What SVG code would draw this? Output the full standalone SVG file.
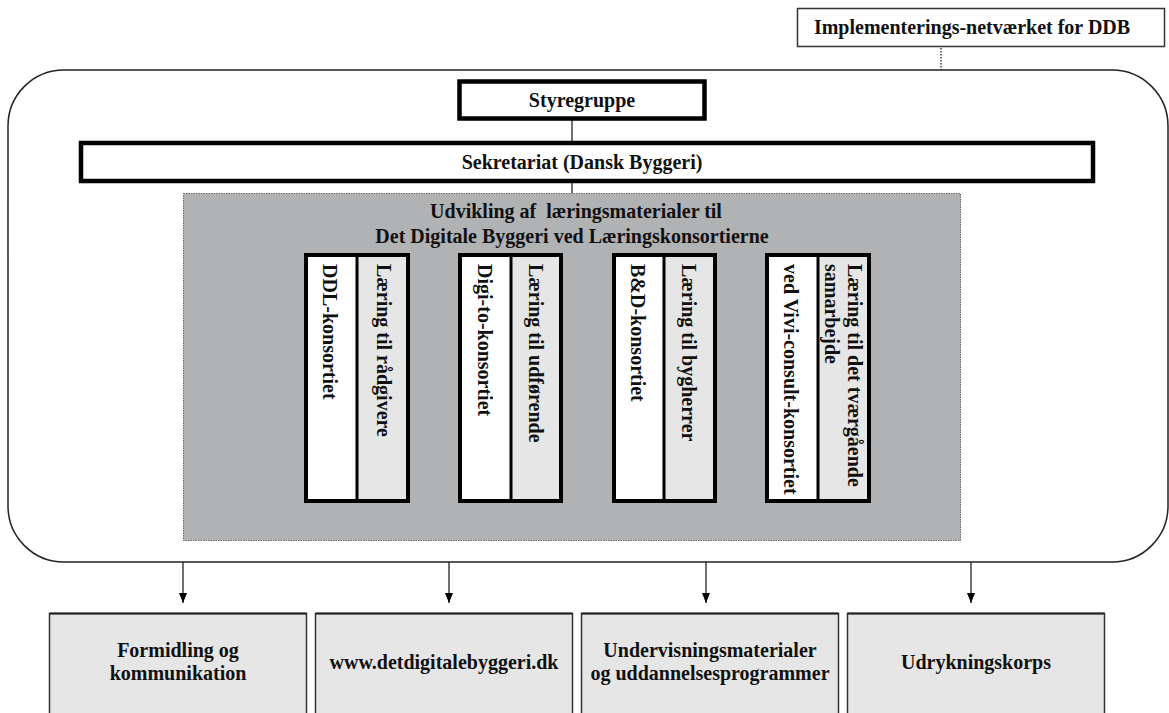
<svg xmlns="http://www.w3.org/2000/svg" width="1169" height="713" viewBox="0 0 1169 713">
<style>
text{font-family:"Liberation Serif","Times New Roman",serif;font-weight:bold;font-size:20px;fill:#111;}
.c{text-anchor:middle;}
.thick{fill:#fff;stroke:#000;stroke-width:4.5;}
.col{stroke:#000;stroke-width:4;}
.div{stroke:#000;stroke-width:3;}
.bot{fill:#e6e6e6;stroke:#333;stroke-width:1.5;}
.conn{stroke:#222;stroke-width:1.3;fill:none;}
</style>
<defs>
<marker id="ah" markerWidth="10" markerHeight="8" refX="10" refY="4" orient="auto" markerUnits="userSpaceOnUse" viewBox="0 0 10 8">
<path d="M0,0 L10,4 L0,8 Z" fill="#000"/>
</marker>
</defs>
<rect width="1169" height="713" fill="#fff"/>

<g id="outer">
<rect x="8" y="70" width="1160" height="492" rx="56" ry="56" fill="#fff" stroke="#222" stroke-width="1.5"/>
</g>

<g id="connectors">
<line class="conn" x1="941" y1="48" x2="941" y2="70" stroke-dasharray="1.5,1.5" stroke="#555"/>
<line class="conn" x1="572" y1="120" x2="572" y2="141"/>
<line class="conn" x1="572" y1="183" x2="572" y2="193"/>
<line class="conn" x1="183" y1="562" x2="183" y2="603" marker-end="url(#ah)"/>
<line class="conn" x1="449" y1="562" x2="449" y2="603" marker-end="url(#ah)"/>
<line class="conn" x1="706" y1="562" x2="706" y2="603" marker-end="url(#ah)"/>
<line class="conn" x1="971" y1="562" x2="971" y2="603" marker-end="url(#ah)"/>
</g>

<g id="implementering">
<rect x="797.5" y="8.5" width="367" height="38" fill="#fff" stroke="#333" stroke-width="1.5"/>
<text class="c" x="972" y="34">Implementerings-netværket for DDB</text>
</g>

<g id="styregruppe">
<rect class="thick" x="459.5" y="81.5" width="245" height="37"/>
<text class="c" x="582" y="107">Styregruppe</text>
</g>

<g id="sekretariat">
<rect class="thick" x="81" y="143" width="1012" height="38"/>
<text class="c" x="582" y="169">Sekretariat (Dansk Byggeri)</text>
</g>

<g id="udvikling">
<rect x="183.5" y="193.5" width="777" height="347" fill="#b1b2b4" stroke="#666" stroke-width="1" stroke-dasharray="1.5,1"/>
<text class="c" x="576" y="218" xml:space="preserve">Udvikling af  læringsmaterialer til</text>
<text class="c" x="572" y="243">Det Digitale Byggeri ved Læringskonsortierne</text>
</g>

<g id="ddl">
<rect x="306" y="255" width="51" height="246" fill="#fff"/>
<rect x="357" y="255" width="51" height="246" fill="#e6e6e6"/>
<rect class="col" x="306" y="255" width="102" height="246" fill="none"/>
<line class="div" x1="357" y1="255" x2="357" y2="501"/>
<text transform="translate(323,264) rotate(90)">DDL-konsortiet</text>
<text transform="translate(377,264) rotate(90)">Læring til rådgivere</text>
</g>

<g id="digi">
<rect x="460" y="255" width="51" height="246" fill="#fff"/>
<rect x="511" y="255" width="50" height="246" fill="#e6e6e6"/>
<rect class="col" x="460" y="255" width="101" height="246" fill="none"/>
<line class="div" x1="511" y1="255" x2="511" y2="501"/>
<text transform="translate(478,264) rotate(90)">Digi-to-konsortiet</text>
<text transform="translate(529,264) rotate(90)">Læring til udførende</text>
</g>

<g id="bd">
<rect x="614" y="255" width="50" height="246" fill="#fff"/>
<rect x="664" y="255" width="51" height="246" fill="#e6e6e6"/>
<rect class="col" x="614" y="255" width="101" height="246" fill="none"/>
<line class="div" x1="664" y1="255" x2="664" y2="501"/>
<text transform="translate(631,264) rotate(90)">B&amp;D-konsortiet</text>
<text transform="translate(682,264) rotate(90)">Læring til bygherrer</text>
</g>

<g id="vivi">
<rect x="767" y="255" width="51" height="246" fill="#fff"/>
<rect x="818" y="255" width="51" height="246" fill="#e6e6e6"/>
<rect class="col" x="767" y="255" width="102" height="246" fill="none"/>
<line class="div" x1="818" y1="255" x2="818" y2="501"/>
<text transform="translate(784,264) rotate(90)">ved Vivi-consult-konsortiet</text>
<text transform="translate(848,264) rotate(90)">Læring til det tværgående</text>
<text transform="translate(825,264) rotate(90)">samarbejde</text>
</g>

<g id="formidling">
<rect class="bot" x="49.5" y="613.5" width="257" height="110"/>
<line x1="49.5" y1="613.5" x2="306.5" y2="613.5" stroke="#222" stroke-width="2"/>
<text class="c" x="178" y="657">Formidling og</text>
<text class="c" x="178" y="680">kommunikation</text>
</g>

<g id="www">
<rect class="bot" x="315.5" y="613.5" width="257" height="110"/>
<line x1="315.5" y1="613.5" x2="572.5" y2="613.5" stroke="#222" stroke-width="2"/>
<text class="c" x="444" y="669">www.detdigitalebyggeri.dk</text>
</g>

<g id="undervisning">
<rect class="bot" x="581.5" y="613.5" width="257" height="110"/>
<line x1="581.5" y1="613.5" x2="838.5" y2="613.5" stroke="#222" stroke-width="2"/>
<text class="c" x="710" y="657">Undervisningsmaterialer</text>
<text class="c" x="710" y="680">og uddannelsesprogrammer</text>
</g>

<g id="udrykning">
<rect class="bot" x="847.5" y="613.5" width="257" height="110"/>
<line x1="847.5" y1="613.5" x2="1104.5" y2="613.5" stroke="#222" stroke-width="2"/>
<text class="c" x="976" y="669">Udrykningskorps</text>
</g>
</svg>
